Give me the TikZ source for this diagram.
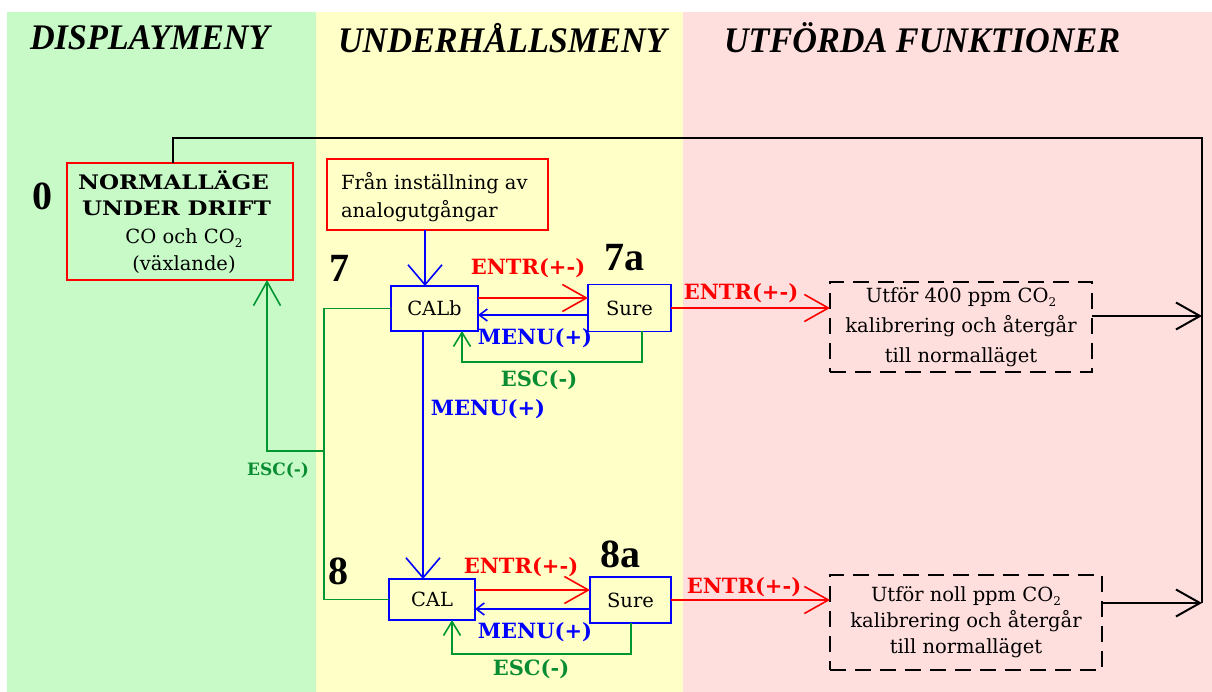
\documentclass[tikz,border=0pt]{standalone}
\usepackage{fontspec}
\usetikzlibrary{arrows.meta,calc}
\newfontfamily\dv{DejaVu Serif}
\newfontfamily\dvw[FakeStretch=1.15]{DejaVu Serif}
\newfontfamily\lib{Liberation Serif}
\newfontfamily\libc[FakeStretch=0.95]{Liberation Serif}
\definecolor{bggreen}{RGB}{200,250,200}
\definecolor{bgyellow}{RGB}{255,255,200}
\definecolor{bgpink}{RGB}{255,222,222}
\definecolor{lred}{RGB}{255,0,0}
\definecolor{lblue}{RGB}{0,0,255}
\definecolor{lgreen}{RGB}{0,150,50}
\definecolor{tgreen}{RGB}{10,140,50}
\newcommand{\subtwo}{{\fontsize{12}{12}\selectfont\raisebox{-4pt}{2}}}
\begin{document}
\begin{tikzpicture}[x=1pt,y=-1pt,
  every node/.style={inner sep=0pt,outer sep=0pt},
  rbox/.style={draw=lred,line width=1.5pt,rectangle},
  bbox/.style={draw=lblue,line width=1.5pt,rectangle,font=\dv\fontsize{19.5}{22}\selectfont},
  dbox/.style={draw=black,line width=1.5pt,dash pattern=on 16pt off 9pt,rectangle,align=center},
  txt/.style={font=\dv\fontsize{19.5}{22}\selectfont},
  btxt/.style={font=\dvw\bfseries\fontsize{20}{22}\selectfont},
  lbl/.style={font=\dv\bfseries\fontsize{21}{22}\selectfont},
  slbl/.style={font=\dv\bfseries\fontsize{17}{18}\selectfont},
  num/.style={font=\lib\bfseries\fontsize{40}{40}\selectfont},
  hdr/.style={font=\libc\bfseries\itshape\fontsize{36}{36}\selectfont},
  redln/.style={draw=lred,line width=1.6pt},
  bluln/.style={draw=lblue,line width=1.6pt},
  grnln/.style={draw=lgreen,line width=1.6pt},
  blkln/.style={draw=black,line width=2pt},
  bigtip/.style={-{Straight Barb[length=24pt,width=27pt]}},
  widetip/.style={-{Straight Barb[length=20pt,width=34pt]}},
  smalltip/.style={-{Straight Barb[length=8pt,width=12pt]}},
  esctip/.style={-{Straight Barb[length=14pt,width=17pt]}},
]
% backgrounds
\useasboundingbox (0,0) rectangle (1212,692);
\fill[white] (0,0) rectangle (1212,692);
\fill[bggreen] (7,12) rectangle (316,692);
\fill[bgyellow] (316,12) rectangle (683,692);
\fill[bgpink] (683,12) rectangle (1212,692);

% headers
\node[hdr,anchor=west] (h1) at (30,38) {DISPLAYMENY};
\node[hdr,anchor=west] (h2) at (338,38) {UNDERHÅLLSMENY};
\node[hdr,anchor=west] (h3) at (724,38) {UTFÖRDA FUNKTIONER};

% boxes
\node[rbox,minimum width=226pt,minimum height=117pt] (box0) at (180,221.5) {};
\node[btxt,anchor=west] (t01) at (78,180) {NORMALLÄGE};
\node[btxt,anchor=west] (t02) at (82,208) {UNDER DRIFT};
\node[txt] (t03) at (184,238) {CO och CO\subtwo};
\node[txt] (t04) at (184,265) {(växlande)};

\node[rbox,minimum width=221pt,minimum height=71pt] (from) at (437.5,194.5) {};
\node[txt,anchor=west] (f1) at (341,183) {Från inställning av};
\node[txt,anchor=west] (f2) at (341,211) {analogutgångar};

\node[bbox,minimum width=87pt,minimum height=45pt] (calb) at (434.5,308.5) {CALb};
\node[bbox,minimum width=83pt,minimum height=47pt] (sure7) at (629.5,308) {Sure};
\node[bbox,minimum width=86pt,minimum height=41pt] (cal) at (432,599.5) {CAL};
\node[bbox,minimum width=81pt,minimum height=46pt] (sure8) at (630.5,600) {Sure};

\node[dbox,minimum width=262pt,minimum height=90pt,font=\dv\fontsize{19.5}{30}\selectfont] (d1) at (961,327)
  {Utför 400 ppm CO\subtwo\\kalibrering och återgår\\till normalläget};
\node[dbox,minimum width=272pt,minimum height=95pt,font=\dv\fontsize{19.5}{26}\selectfont] (d2) at (966,622.5)
  {Utför noll ppm CO\subtwo\\kalibrering och återgår\\till normalläget};

% numbers
\node[num] (n0) at (42,196) {0};
\node[num] (n7) at (339,268) {7};
\node[num] (n7a) at (624,258) {7a};
\node[num] (n8) at (338,571) {8};
\node[num] (n8a) at (620,554) {8a};

% coordinates
\coordinate (tl) at (173,138);
\coordinate (tr) at (1202,138);
\coordinate (gmid) at (324,451);
\coordinate (g0) at (267,451);
\coordinate (e7) at (642,362);
\coordinate (e7b) at (462,362);
\coordinate (e8) at (631,654);
\coordinate (e8b) at (452,654);
\coordinate (fx) at (425,250);
\coordinate (cx) at (423,400);
\coordinate (d1o) at ([yshift=11pt]d1.east);
\coordinate (d2o) at ([yshift=19.5pt]d2.east);
\coordinate (c7r) at ([yshift=10.5pt]calb.east);
\coordinate (s7l) at ([yshift=-7pt]sure7.west);
\coordinate (c8r) at ([yshift=9.5pt]cal.east);
\coordinate (s8l) at ([yshift=-9pt]sure8.west);

% black return line
\draw[blkln] (tl |- box0.north) -- (tl) -- (tr) -- (tr |- d2o);
\draw[blkln,bigtip] (d1o) -- (d1o -| tr);
\draw[blkln,bigtip] (d2o) -- (d2o -| tr);

% blue vertical arrows
\draw[bluln,widetip] (fx |- from.south) -- (fx |- calb.north);
\draw[bluln,widetip] (cx |- calb.south) -- (cx |- cal.north);

% 7 row
\draw[redln,bigtip] (c7r) -- (c7r -| sure7.west);
\draw[bluln,smalltip] (s7l) -- (s7l -| calb.east);
\draw[grnln,esctip] (e7 |- sure7.south) -- (e7) -- (e7b) -- (e7b |- calb.south);
\draw[redln,bigtip] (sure7.east) -- (sure7.east -| d1.west);

% 8 row
\draw[redln,bigtip] (c8r) -- (c8r -| sure8.west);
\draw[bluln,smalltip] (s8l) -- (s8l -| cal.east);
\draw[grnln,esctip] (e8 |- sure8.south) -- (e8) -- (e8b) -- (e8b |- cal.south);
\draw[redln,bigtip] (sure8.east) -- (sure8.east -| d2.west);

% green ESC lines on left
\draw[grnln] (calb.west) -- (calb.west -| gmid) -- (gmid |- cal.west) -- (cal.west);
\draw[grnln,bigtip] (gmid) -- (g0) -- (g0 |- box0.south);

% labels
\node[lbl,text=lred] (l1) at (528,268) {ENTR(+-)};
\node[lbl,text=lblue] (l2) at (535,338) {MENU(+)};
\node[lbl,text=tgreen] (l3) at (539,380) {ESC(-)};
\node[lbl,text=lblue] (l4) at (488,409) {MENU(+)};
\node[slbl,text=tgreen] (l5) at (278,470) {ESC(-)};
\node[lbl,text=lred] (l6) at (521,567) {ENTR(+-)};
\node[lbl,text=lblue] (l7) at (535,632) {MENU(+)};
\node[lbl,text=tgreen] (l8) at (531,669) {ESC(-)};
\node[lbl,text=lred] (l9) at (741,293) {ENTR(+-)};
\node[lbl,text=lred] (l10) at (744,587) {ENTR(+-)};
\end{tikzpicture}
\end{document}
